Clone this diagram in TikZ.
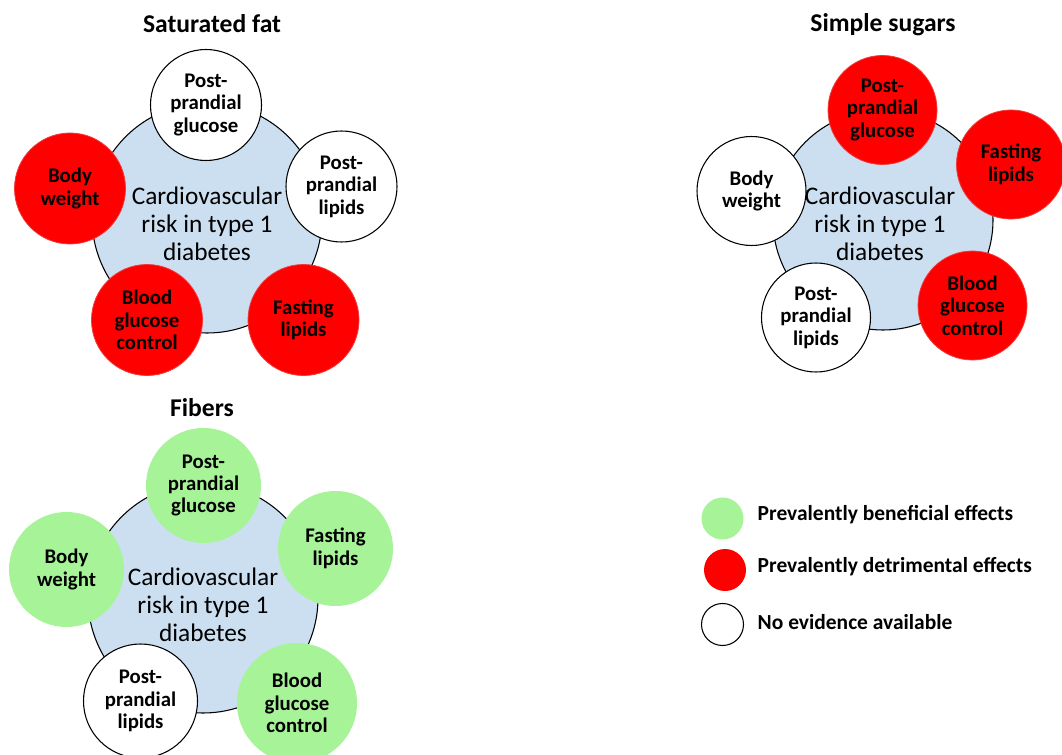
\documentclass[tikz,border=0pt]{standalone}
\usepackage{fontspec}
\setmainfont{Carlito}
\definecolor{cvblue}{HTML}{CCDFF1}
\definecolor{good}{HTML}{A6F497}
\definecolor{bad}{HTML}{FF0000}
\definecolor{badedge}{HTML}{F23A3A}
\begin{document}
\begin{tikzpicture}[x=0.75pt,y=-0.75pt,
  hub/.style={circle,draw=black,line width=0.8pt,fill=cvblue,minimum size=#1*1.5pt,inner sep=0pt},
  hubtext/.style={align=center,font=\fontsize{19}{21}\selectfont},
  sat/.style={circle,minimum size=#1*1.5pt,inner sep=0pt,align=center,font=\bfseries\fontsize{15.6}{16.8}\selectfont},
  none/.style={sat=#1,draw=black,line width=0.8pt,fill=white},
  benef/.style={sat=#1,fill=good},
  detr/.style={sat=#1,fill=bad,draw=badedge,line width=0.6pt},
  paneltitle/.style={font=\bfseries\fontsize{19.2}{22}\selectfont},
  legdot/.style={circle,minimum size=31.5pt,inner sep=0pt},
  legtext/.style={anchor=west,font=\bfseries\fontsize{16.1}{18}\selectfont}]
\useasboundingbox (0,0) rectangle (1062,755);
\fill[white] (0,0) rectangle (1062,755);

% ---------- Saturated fat ----------
\node[paneltitle] (t1) at (212,24) {Saturated fat};
\node[hub=115] (h1) at (207,218) {};
\node[hubtext] (h1t) at (207,224) {Cardiovascular\\risk in type 1\\diabetes};
\node[none=55.5] (a1) at (206,105) {Post-\\prandial\\glucose};
\node[none=55.5] (a2) at (341.5,186.5) {Post-\\prandial\\lipids};
\node[detr=55.5] (a3) at (70,188.5) {Body\\weight};
\node[detr=55.5] (a4) at (147,320) {Blood\\glucose\\control};
\node[detr=55.5] (a5) at (303.5,320) {Fasting\\lipids};

% ---------- Simple sugars ----------
\node[paneltitle] (t2) at (883,25) {Simple sugars};
\node[hub=110] (h2) at (883,220) {};
\node[hubtext] (h2t) at (880,224) {Cardiovascular\\risk in type 1\\diabetes};
\node[detr=54.5] (b1) at (882.5,110) {Post-\\prandial\\glucose};
\node[detr=54.5] (b2) at (1011,164.5) {Fasting\\lipids};
\node[none=54.5] (b3) at (751.5,191) {Body\\weight};
\node[none=54.5] (b4) at (816,317.5) {Post-\\prandial\\lipids};
\node[detr=54.5] (b5) at (972.5,305.5) {Blood\\glucose\\control};

% ---------- Fibers ----------
\node[paneltitle] (t3) at (202,408) {Fibers};
\node[hub=115] (h3) at (203,598) {};
\node[hubtext] (h3t) at (203,605) {Cardiovascular\\risk in type 1\\diabetes};
\node[benef=57.5] (c1) at (203.5,485.5) {Post-\\prandial\\glucose};
\node[benef=57.5] (c2) at (335.5,548.5) {Fasting\\lipids};
\node[benef=57.5] (c3) at (66.5,569.5) {Body\\weight};
\node[none=57] (c4) at (140.5,701) {Post-\\prandial\\lipids};
\node[benef=60] (c5) at (297,703) {Blood\\glucose\\control};

% ---------- Legend ----------
\node[legdot,fill=good] (l1) at (722.5,518.5) {};
\node[legdot,fill=bad] (l2) at (725,570) {};
\node[legdot,draw=black,line width=0.8pt,fill=white] (l3) at (722.5,624.5) {};
\node[legtext] (l1t) at (753,515) {Prevalently beneficial effects};
\node[legtext] (l2t) at (753,567) {Prevalently detrimental effects};
\node[legtext] (l3t) at (753,622) {No evidence available};
\end{tikzpicture}
\end{document}
